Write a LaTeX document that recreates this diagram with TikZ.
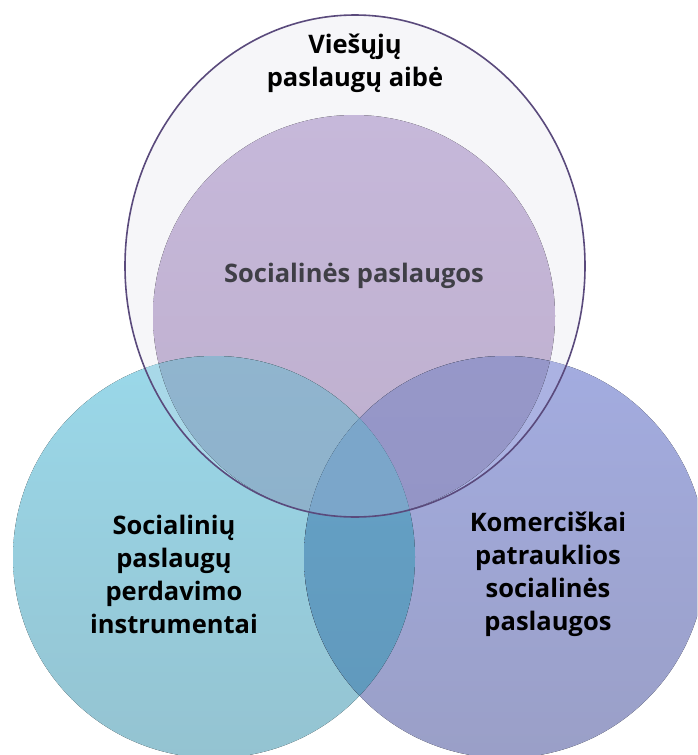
\documentclass[tikz,border=0pt]{standalone}
\usepackage{fontspec}
\setmainfont{Open Sans}
\definecolor{ellfill}{HTML}{F6F6F9}
\definecolor{ellline}{HTML}{5A4A7C}
\definecolor{purT}{HTML}{C6B8DA}
\definecolor{purB}{HTML}{BEAFCD}
\definecolor{leftT}{HTML}{9AD8E9}
\definecolor{leftB}{HTML}{94C3D1}
\definecolor{rightT}{HTML}{A3ACE0}
\definecolor{rightB}{HTML}{9A9FC7}
\definecolor{lsliver}{HTML}{A8D8E8}
\definecolor{rsliver}{HTML}{ABB2E2}
\definecolor{lpT}{HTML}{93B9D4}
\definecolor{lpB}{HTML}{8EB2CB}
\definecolor{rpT}{HTML}{9A9BCD}
\definecolor{rpB}{HTML}{9495C6}
\definecolor{lrT}{HTML}{66A3C8}
\definecolor{lrB}{HTML}{6098BB}
\definecolor{tripleC}{HTML}{7BA6CA}
\definecolor{midtext}{HTML}{3F3F46}
\tikzset{
  lbl/.style={align=center, font=\fontsize{25.5}{33}\selectfont\bfseries, text=black, inner sep=0pt},
}
\begin{document}
\begin{tikzpicture}[x=1pt,y=-1pt]
\useasboundingbox (0,0) rectangle (697,755);
\clip (0,0) rectangle (697,755);
\coordinate (E) at (355,266);
\coordinate (P) at (354,316);
\coordinate (L) at (214,557);
\coordinate (R) at (505,557);
\def\ellpath{(E) ellipse [x radius=230pt, y radius=251pt]}
\def\purpath{(P) circle [radius=201pt]}
\def\lpath{(L) circle [radius=201pt]}
\def\rpath{(R) circle [radius=201pt]}
% base fills
\fill[ellfill] \ellpath;
\fill[top color=purT, bottom color=purB] \purpath;
\fill[top color=leftT, bottom color=leftB] \lpath;
\fill[top color=rightT, bottom color=rightB] \rpath;
% slivers inside the ellipse
\begin{scope}
  \clip \ellpath;
  \fill[lsliver] \lpath;
  \fill[rsliver] \rpath;
\end{scope}
% left with purple
\begin{scope}
  \clip \lpath;
  \fill[top color=lpT, bottom color=lpB] \purpath;
\end{scope}
% right with purple
\begin{scope}
  \clip \rpath;
  \fill[top color=rpT, bottom color=rpB] \purpath;
\end{scope}
% left with right
\begin{scope}
  \clip \lpath;
  \fill[top color=lrT, bottom color=lrB] \rpath;
\end{scope}
% triple
\begin{scope}
  \clip \lpath;
  \clip \rpath;
  \fill[tripleC] \purpath;
\end{scope}
% ellipse outline
\draw[ellline, line width=1.6pt] \ellpath;
% labels
\node[lbl] (top) at (355,63) {Viešųjų\\paslaugų aibė};
\node[lbl, text=midtext] (mid) at (354,276) {Socialinės paslaugos};
\node[lbl] (lefttxt) at (174,574) {Socialinių\\paslaugų\\perdavimo\\instrumentai};
\node[lbl] (righttxt) at (548,574) {Komerciškai\\patrauklios\\socialinės\\paslaugos};
\end{tikzpicture}
\end{document}
